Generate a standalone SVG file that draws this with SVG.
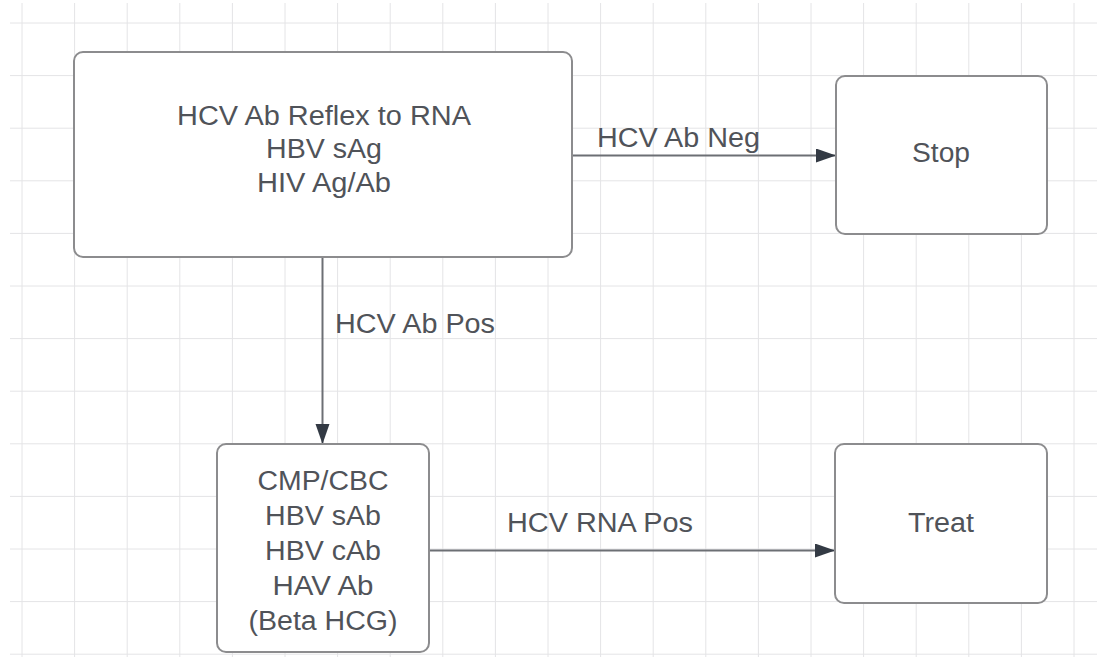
<svg xmlns="http://www.w3.org/2000/svg" width="1097" height="657" viewBox="0 0 1097 657">
  <defs>
    <style>
      .grid line { stroke: #e4e4e6; stroke-width: 1; }
      .box { fill: #ffffff; stroke: #8c8c8e; stroke-width: 2; }
      .t { font-family: "Liberation Sans", Arial, sans-serif; font-size: 27px; fill: #505359; text-anchor: middle; }
      .lbl { font-family: "Liberation Sans", Arial, sans-serif; font-size: 27px; fill: #505359; text-anchor: start; }
      .conn { stroke: #6c6f74; stroke-width: 2; fill: none; marker-end: url(#arrow); }
    </style>
    <marker id="arrow" markerUnits="userSpaceOnUse" markerWidth="22" markerHeight="16" refX="20" refY="7" orient="auto">
      <path d="M0,0 L20,7 L0,14 Z" fill="#333a44"/>
    </marker>
  </defs>
  <rect x="0" y="0" width="1097" height="657" fill="#ffffff"/>
  <g class="grid" id="grid">
    <line x1="22" y1="3" x2="22" y2="657"/>
    <line x1="74.6" y1="3" x2="74.6" y2="657"/>
    <line x1="127.2" y1="3" x2="127.2" y2="657"/>
    <line x1="179.8" y1="3" x2="179.8" y2="657"/>
    <line x1="232.4" y1="3" x2="232.4" y2="657"/>
    <line x1="285" y1="3" x2="285" y2="657"/>
    <line x1="337.6" y1="3" x2="337.6" y2="657"/>
    <line x1="390.2" y1="3" x2="390.2" y2="657"/>
    <line x1="442.8" y1="3" x2="442.8" y2="657"/>
    <line x1="495.4" y1="3" x2="495.4" y2="657"/>
    <line x1="548" y1="3" x2="548" y2="657"/>
    <line x1="600.6" y1="3" x2="600.6" y2="657"/>
    <line x1="653.2" y1="3" x2="653.2" y2="657"/>
    <line x1="705.8" y1="3" x2="705.8" y2="657"/>
    <line x1="758.4" y1="3" x2="758.4" y2="657"/>
    <line x1="811" y1="3" x2="811" y2="657"/>
    <line x1="863.6" y1="3" x2="863.6" y2="657"/>
    <line x1="916.2" y1="3" x2="916.2" y2="657"/>
    <line x1="968.8" y1="3" x2="968.8" y2="657"/>
    <line x1="1021.4" y1="3" x2="1021.4" y2="657"/>
    <line x1="1074" y1="3" x2="1074" y2="657"/>
    <line x1="10" y1="23" x2="1097" y2="23"/>
    <line x1="10" y1="75.6" x2="1097" y2="75.6"/>
    <line x1="10" y1="128.2" x2="1097" y2="128.2"/>
    <line x1="10" y1="180.8" x2="1097" y2="180.8"/>
    <line x1="10" y1="233.4" x2="1097" y2="233.4"/>
    <line x1="10" y1="286" x2="1097" y2="286"/>
    <line x1="10" y1="338.6" x2="1097" y2="338.6"/>
    <line x1="10" y1="391.2" x2="1097" y2="391.2"/>
    <line x1="10" y1="443.8" x2="1097" y2="443.8"/>
    <line x1="10" y1="496.4" x2="1097" y2="496.4"/>
    <line x1="10" y1="549" x2="1097" y2="549"/>
    <line x1="10" y1="601.6" x2="1097" y2="601.6"/>
    <line x1="10" y1="654.2" x2="1097" y2="654.2"/>
  </g>
  <g id="connectors">
    <line class="conn" x1="573" y1="155.5" x2="836" y2="155.5"/>
    <line class="conn" x1="322.5" y1="258" x2="322.5" y2="444"/>
    <line class="conn" x1="430" y1="550.5" x2="835" y2="550.5"/>
    <text class="lbl" x="597" y="147" textLength="163" lengthAdjust="spacingAndGlyphs">HCV Ab Neg</text>
    <text class="lbl" x="335" y="332.5" textLength="160" lengthAdjust="spacingAndGlyphs">HCV Ab Pos</text>
    <text class="lbl" x="507" y="531.5" textLength="186" lengthAdjust="spacingAndGlyphs">HCV RNA Pos</text>
  </g>
  <g id="node-tests">
    <rect class="box" x="74" y="52" width="498" height="205" rx="9"/>
    <text class="t" x="324" y="124.5" textLength="294" lengthAdjust="spacingAndGlyphs">HCV Ab Reflex to RNA</text>
    <text class="t" x="324" y="158" textLength="116" lengthAdjust="spacingAndGlyphs">HBV sAg</text>
    <text class="t" x="324" y="191.5" textLength="134" lengthAdjust="spacingAndGlyphs">HIV Ag/Ab</text>
  </g>
  <g id="node-stop">
    <rect class="box" x="836" y="76" width="211" height="158" rx="9"/>
    <text class="t" x="941" y="162" textLength="58" lengthAdjust="spacingAndGlyphs">Stop</text>
  </g>
  <g id="node-workup">
    <rect class="box" x="217" y="444" width="212" height="208" rx="9"/>
    <text class="t" x="323" y="490" textLength="131" lengthAdjust="spacingAndGlyphs">CMP/CBC</text>
    <text class="t" x="323" y="525" textLength="116" lengthAdjust="spacingAndGlyphs">HBV sAb</text>
    <text class="t" x="323" y="560" textLength="116" lengthAdjust="spacingAndGlyphs">HBV cAb</text>
    <text class="t" x="323" y="595" textLength="101" lengthAdjust="spacingAndGlyphs">HAV Ab</text>
    <text class="t" x="323" y="630" textLength="149" lengthAdjust="spacingAndGlyphs">(Beta HCG)</text>
  </g>
  <g id="node-treat">
    <rect class="box" x="835" y="444" width="212" height="159" rx="9"/>
    <text class="t" x="941" y="532" textLength="66" lengthAdjust="spacingAndGlyphs">Treat</text>
  </g>
</svg>
